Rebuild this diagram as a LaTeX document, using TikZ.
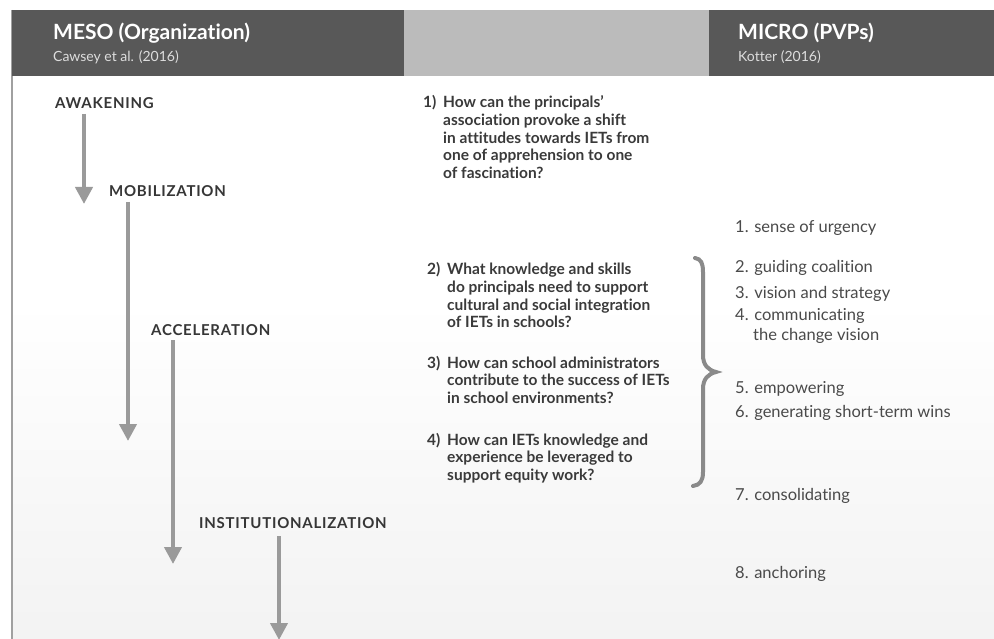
\documentclass[tikz,border=0pt]{standalone}
\usepackage{fontspec}
\setmainfont{Lato}[Ligatures={NoCommon}]
\usetikzlibrary{arrows.meta}
\definecolor{hdrdark}{HTML}{585858}
\definecolor{hdrlight}{HTML}{BBBBBB}
\definecolor{hdrsub}{HTML}{DDDDDD}
\definecolor{stagecol}{HTML}{363636}
\definecolor{qcol}{HTML}{3A3A3A}
\definecolor{listcol}{HTML}{4A4A4A}
\definecolor{flowcol}{HTML}{9A9A9A}
\definecolor{bracecol}{HTML}{8A8A8A}
\definecolor{framecol}{HTML}{A0A0A0}
% page background: white in the upper part, fading to light grey at the bottom
\pgfdeclareverticalshading{pagebg}{100bp}{color(0bp)=(black!9); color(55bp)=(white); color(100bp)=(white)}
\begin{document}
\begin{tikzpicture}[x=1pt,y=-1pt,
  hdrtitle/.style={anchor=base west,inner sep=0,text=white,font=\fontsize{21}{24}\selectfont\bfseries},
  hdrsource/.style={anchor=base west,inner sep=0,text=hdrsub,font=\fontsize{14}{16}\selectfont},
  stage/.style={anchor=base west,inner sep=0,text=stagecol,font=\fontsize{15}{18}\selectfont\bfseries\addfontfeatures{LetterSpace=5}},
  qnum/.style={anchor=base west,inner sep=0,text=qcol,font=\fontsize{15.5}{17.6}\selectfont\bfseries},
  qtext/.style={anchor=base west,inner sep=0,text=qcol,font=\fontsize{15.5}{17.6}\selectfont\bfseries},
  item/.style={anchor=base west,inner sep=0,text=listcol,font=\fontsize{16.5}{20}\selectfont},
  flow/.style={draw=flowcol,line width=4pt,-{Triangle[width=17pt,length=17pt]}}]
\useasboundingbox (0,0) rectangle (994,639);
\fill[white] (0,0) rectangle (994,639);
% page background and frame
\shade[shading=pagebg] (12,76) rectangle (994,639);
\draw[framecol,line width=1.5pt] (12,10) -- (12,639);
% header band
\fill[hdrdark] (12,10) rectangle (404,76);
\fill[hdrlight] (404,10) rectangle (709,76);
\fill[hdrdark] (709,10) rectangle (994,76);
\node[hdrtitle] (meso) at (53,40) {MESO (Organization)};
\node[hdrsource] (mesosrc) at (53,62) {Cawsey et al. (2016)};
\node[hdrtitle] (micro) at (738,40) {MICRO (PVPs)};
\node[hdrsource] (microsrc) at (738,62) {Kotter (2016)};
% stages
\node[stage] (aw) at (55,109) {AWAKENING};
\node[stage] (mo) at (109,197) {MOBILIZATION};
\node[stage] (ac) at (151,335) {ACCELERATION};
\node[stage] (in) at (199,528) {INSTITUTIONALIZATION};
\coordinate (t1) at (84,204);
\coordinate (t2) at (128,441);
\coordinate (t3) at (173,564);
\coordinate (t4) at (279,640);
\draw[flow] ([yshift=-5pt]t1 |- aw.base) -- (t1);
\draw[flow] ([yshift=-5pt]t2 |- mo.base) -- (t2);
\draw[flow] ([yshift=-5pt]t3 |- ac.base) -- (t3);
\draw[flow] ([yshift=-8pt]t4 |- in.base) -- (t4);
% research questions
\node[qnum] (q1n) at (423,108) {1)};
\node[qtext] (q1) at (443,108) {\begin{tabular}[t]{@{}l@{}}How can the principals’\\association provoke a shift\\in attitudes towards IETs from\\one of apprehension to one\\of fascination?\end{tabular}};
\node[qnum] (q2n) at (427,275) {2)};
\node[qtext] (q2) at (447,275) {\begin{tabular}[t]{@{}l@{}}What knowledge and skills\\do principals need to support\\cultural and social integration\\of IETs in schools?\end{tabular}};
\node[qnum] (q3n) at (427,368) {3)};
\node[qtext] (q3) at (447,368) {\begin{tabular}[t]{@{}l@{}}How can school administrators\\contribute to the success of IETs\\in school environments?\end{tabular}};
\node[qnum] (q4n) at (427,445) {4)};
\node[qtext] (q4) at (447,445) {\begin{tabular}[t]{@{}l@{}}How can IETs knowledge and\\experience be leveraged to\\support equity work?\end{tabular}};
% brace grouping questions 2 to 4
\draw[bracecol,line width=4pt,line cap=round]
  (695,258) .. controls (701,259) and (703,263) .. (703,272) -- (703,355)
  .. controls (703,365) and (708,370) .. (716,372)
  .. controls (708,374) and (703,379) .. (703,389) -- (703,472)
  .. controls (703,481) and (700,485) .. (693,486);
% Kotter's eight steps
\node[item] (k1) at (735,233) {1. sense of urgency};
\node[item] (k2) at (735,273) {2. guiding coalition};
\node[item] (k3) at (735,299) {3. vision and strategy};
\node[item] (k4) at (735,320) {4. communicating};
\node[item] (k4b) at (753,340) {the change vision};
\node[item] (k5) at (735,393) {5. empowering};
\node[item] (k6) at (735,417) {6. generating short-term wins};
\node[item] (k7) at (735,500) {7. consolidating};
\node[item] (k8) at (735,578) {8. anchoring};
\end{tikzpicture}
\end{document}
